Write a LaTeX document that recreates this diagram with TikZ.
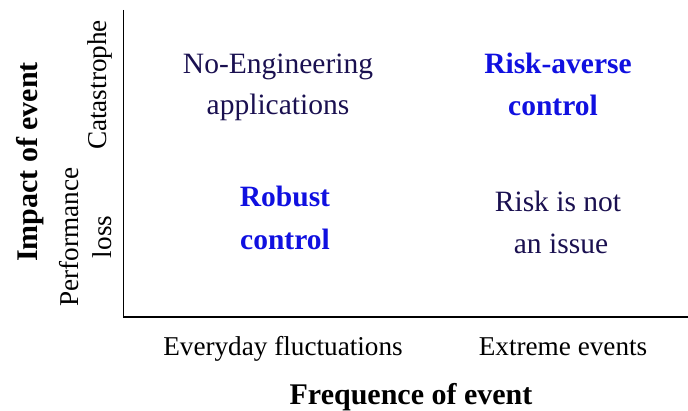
\documentclass[tikz,border=0pt]{standalone}
\usepackage{fontspec}
\setmainfont{Liberation Serif}
\definecolor{navy}{RGB}{26,16,80}
\definecolor{vivid}{RGB}{16,16,224}
\begin{document}
\begin{tikzpicture}[x=1pt,y=-1pt,
  cell/.style={anchor=base,inner sep=0pt,font=\fontsize{29.5}{35}\selectfont,text=navy},
  hot/.style={anchor=base,inner sep=0pt,font=\fontsize{29.5}{35}\selectfont\bfseries,text=vivid},
  tick/.style={anchor=base,inner sep=0pt,font=\fontsize{27.2}{32}\selectfont,text=black},
  title/.style={anchor=base,inner sep=0pt,font=\fontsize{30}{36}\selectfont\bfseries,text=black},
  axis/.style={line width=1.3pt,black}]
\useasboundingbox (0,0) rectangle (688,411);
% axes
\coordinate (top) at (123.5,10);
\coordinate (origin) at (123.5,317);
\coordinate (right) at (688,317);
\draw[axis] (top) -- (origin) -- (right);
% quadrant texts
\node[cell] (ne1) at (278,74) {No-Engineering};
\node[cell] (ne2) at (278,115) {applications};
\node[hot] (ra1) at (558,74) {Risk-averse};
\node[hot] (ra2) at (553,116) {control};
\node[hot] (rc1) at (285,207) {Robust};
\node[hot] (rc2) at (285,250) {control};
\node[cell] (rn1) at (558,212) {Risk is not};
\node[cell] (rn2) at (561,254) {an issue};
% x tick labels
\node[tick] (xt1) at (283,356) {Everyday fluctuations};
\node[tick] (xt2) at (563,356) {Extreme events};
\node[title] (xlab) at (411,404) {Frequence of event};
% y labels
\node[title,rotate=90] (ylab) at (37,162) {Impact of event};
\node[tick,rotate=90] (yt1) at (78,237) {Performance};
\node[tick,rotate=90] (yt2) at (111,237) {loss};
\node[tick,rotate=90] (yt3) at (106,85) {Catastrophe};
\end{tikzpicture}
\end{document}
